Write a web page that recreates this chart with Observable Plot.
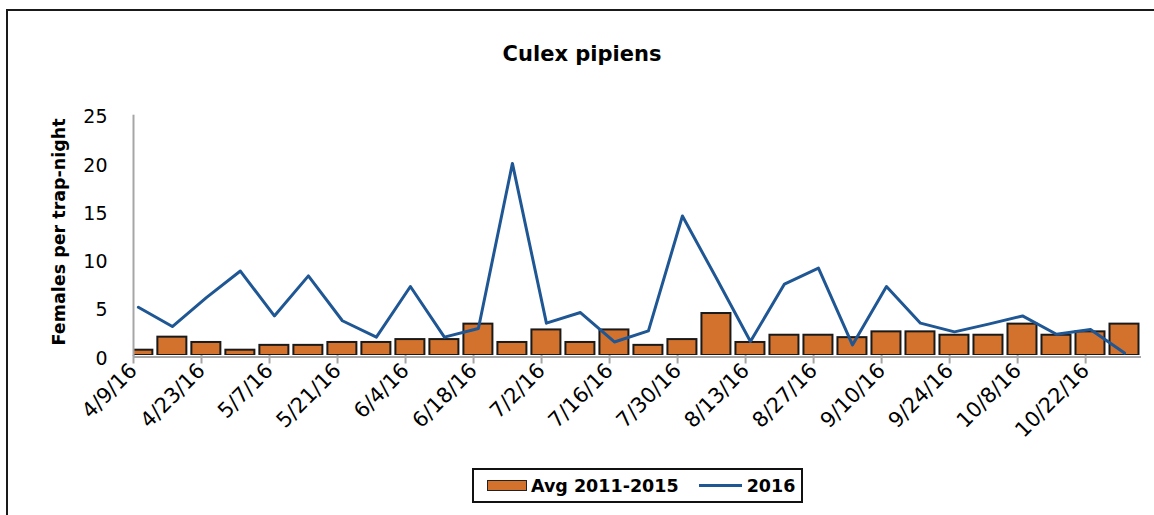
<!DOCTYPE html>
<html>
<head>
<meta charset="utf-8">
<script src="https://cdn.jsdelivr.net/npm/d3@7"></script>
<script src="https://cdn.jsdelivr.net/npm/@observablehq/plot@0.6"></script>
<style>
html, body { margin: 0; padding: 0; background: #fff; }
#wrap { position: relative; width: 1154px; height: 515px; overflow: hidden; background: #fff; font-family: "DejaVu Sans", sans-serif; }
#title { height: 80px; box-sizing: border-box; padding-top: 42px; padding-left: 10px; text-align: center; font-weight: bold; font-size: 21px; line-height: 24px; color: #000; }
#chart svg { display: block; }
#legend { position: absolute; left: 472px; top: 468px; width: 331px; height: 35px; box-sizing: border-box; border: 2px solid #111; display: flex; align-items: center; font-weight: bold; font-size: 17.5px; color: #000; background: #fff; }
#legend .sw { width: 40px; height: 11px; box-sizing: border-box; background: #d2722c; border: 1.5px solid #222; margin-left: 13px; margin-right: 4px; }
#legend .ln { width: 43px; height: 3px; background: #1f5694; margin-left: 20px; margin-right: 5px; }
#frame { position: absolute; left: 6px; top: 9px; width: 2000px; height: 2000px; border-top: 2px solid #1a1a1a; border-left: 2px solid #1a1a1a; pointer-events: none; }
</style>
</head>
<body>
<div id="wrap">
  <div id="title">Culex pipiens</div>
  <div id="chart"></div>
  <div id="legend"><span class="sw"></span><span>Avg 2011-2015</span><span class="ln"></span><span>2016</span></div>
  <div id="frame"></div>
</div>
<script>
// Sampling weeks (categories)
const weeks = [
  "2016-04-10", "2016-04-17", "2016-04-24", "2016-05-01", "2016-05-08",
  "2016-05-15", "2016-05-22", "2016-05-29", "2016-06-05", "2016-06-12",
  "2016-06-19", "2016-06-26", "2016-07-03", "2016-07-10", "2016-07-17",
  "2016-07-24", "2016-07-31", "2016-08-07", "2016-08-14", "2016-08-21",
  "2016-08-28", "2016-09-04", "2016-09-11", "2016-09-18", "2016-09-25",
  "2016-10-02", "2016-10-09", "2016-10-16", "2016-10-23", "2016-10-30"
];
// Avg 2011-2015 (bars)
const avg20112015 = [
  0.55, 1.9, 1.35, 0.55, 1.05, 1.05, 1.35, 1.35, 1.65, 1.65,
  3.25, 1.35, 2.65, 1.35, 2.65, 1.05, 1.65, 4.35, 1.35, 2.1,
  2.1, 1.85, 2.45, 2.45, 2.1, 2.1, 3.25, 2.1, 2.45, 3.25
];
// 2016 (line)
const y2016 = [
  5.0, 3.0, 6.0, 8.75, 4.1, 8.25, 3.6, 1.9, 7.15, 1.9,
  2.8, 19.9, 3.35, 4.45, 1.4, 2.55, 14.45, 8.0, 1.45, 7.4,
  9.05, 1.1, 7.15, 3.35, 2.45, 3.25, 4.1, 2.2, 2.7, 0.25
];
// Axis ticks
const xTickDates = [
  "2016-04-09", "2016-04-23", "2016-05-07", "2016-05-21", "2016-06-04",
  "2016-06-18", "2016-07-02", "2016-07-16", "2016-07-30", "2016-08-13",
  "2016-08-27", "2016-09-10", "2016-09-24", "2016-10-08", "2016-10-22"
];
const yTicks = [0, 5, 10, 15, 20, 25];
const xDomain = ["2016-04-09T00:00:00Z", "2016-11-02T12:00:00Z"];
const yLabel = "Females per trap-night";

const toDate = s => new Date(s.length === 10 ? s + "T00:00:00Z" : s);
const barData = weeks.map((w, i) => ({date: toDate(w), value: avg20112015[i]}));
const lineData = weeks.map((w, i) => ({date: toDate(w), value: y2016[i]}));
const xStart = toDate(xDomain[0]);

const chart = Plot.plot({
  width: 1154,
  height: 380,
  marginTop: 33.7,
  marginBottom: 105,
  marginLeft: 133,
  marginRight: 13,
  style: {fontFamily: "DejaVu Sans", fontSize: "19px", color: "#000", background: "white", overflow: "visible"},
  x: {type: "utc", domain: xDomain.map(toDate)},
  y: {domain: [0, 25]},
  marks: [
    Plot.ruleY([0], {stroke: "#a6a6a6", strokeWidth: 2, dy: 1.5}),
    Plot.rectY(barData, {
      x1: d => d3.utcHour.offset(d.date, -84),
      x2: d => d3.utcHour.offset(d.date, 84),
      y: "value",
      fill: "#d2722c",
      stroke: "#1a1a1a",
      strokeWidth: 2,
      insetLeft: 2.5,
      insetRight: 2.5,
      clip: true
    }),
    Plot.ruleX([xStart], {y1: 0, y2: 25, stroke: "#a6a6a6", strokeWidth: 2, dy: 1}),
    Plot.line(lineData, {x: "date", y: "value", stroke: "#1f5694", strokeWidth: 3}),
    Plot.axisY({ticks: yTicks, tickSize: 0, tickPadding: 26, fontSize: 19, dy: 3, label: null}),
    Plot.axisX({
      ticks: xTickDates.map(toDate),
      tickFormat: d3.utcFormat("%-m/%-d/%y"),
      tickRotate: -45,
      tickSize: 8.5,
      tickPadding: 3,
      stroke: "#a6a6a6",
      strokeWidth: 2,
      fontSize: 21,
      label: null
    }),
    Plot.text([yLabel], {
      frameAnchor: "left",
      textAnchor: "middle",
      rotate: -90,
      dx: -81,
      dy: -3,
      lineAnchor: "top",
      fontWeight: "bold",
      fontSize: 17.5,
      fill: "#000"
    })
  ]
});
document.getElementById("chart").appendChild(chart);
</script>
</body>
</html>
